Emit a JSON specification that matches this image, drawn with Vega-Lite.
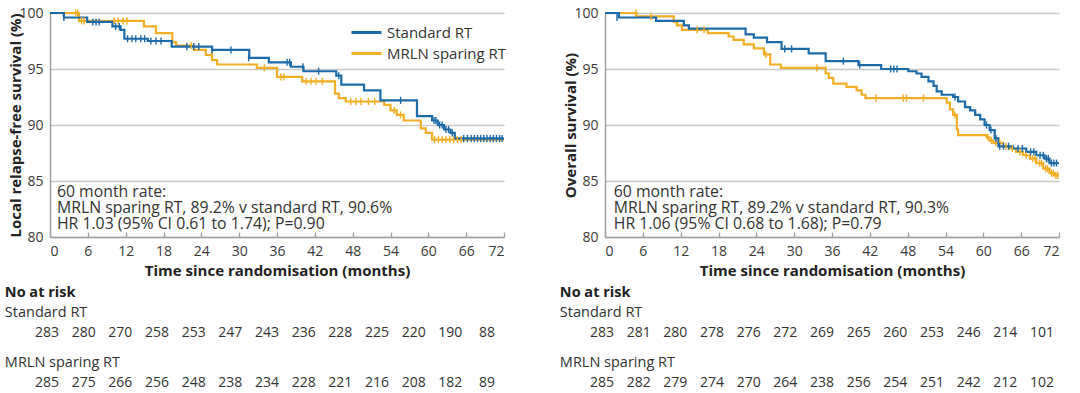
{
  "$schema": "https://vega.github.io/schema/vega-lite/v6.json",
  "padding": {"left": 4, "top": 6, "right": 0, "bottom": 0},
  "background": "white",
  "config": {
    "view": {"stroke": null},
    "font": "Open Sans",
    "text": {"font": "Open Sans", "color": "#333333", "fontSize": 14},
    "axis": {"labelFont": "Open Sans", "titleFont": "Open Sans", "labelFontSize": 14, "labelColor": "#3a3a3a", "titleFontSize": 15, "titleFontWeight": "bold", "titleColor": "#222222", "domainColor": "#a0a0a0", "domainWidth": 1.5, "labelOverlap": false}
  },
  "datasets": {
    "km": [
      {"panel": "L", "arm": "MRLN sparing RT", "t": 0, "s": 100}, {"panel": "L", "arm": "MRLN sparing RT", "t": 4.6, "s": 99.3}, {"panel": "L", "arm": "MRLN sparing RT", "t": 14.9, "s": 98.8}, {"panel": "L", "arm": "MRLN sparing RT", "t": 16.8, "s": 98.2}, {"panel": "L", "arm": "MRLN sparing RT", "t": 19.4, "s": 97.4}, {"panel": "L", "arm": "MRLN sparing RT", "t": 20, "s": 97.1}, {"panel": "L", "arm": "MRLN sparing RT", "t": 22.8, "s": 96.7}, {"panel": "L", "arm": "MRLN sparing RT", "t": 24.7, "s": 96.25}, {"panel": "L", "arm": "MRLN sparing RT", "t": 25.7, "s": 95.8}, {"panel": "L", "arm": "MRLN sparing RT", "t": 26.5, "s": 95.4}, {"panel": "L", "arm": "MRLN sparing RT", "t": 32.8, "s": 95.1}, {"panel": "L", "arm": "MRLN sparing RT", "t": 36, "s": 94.3}, {"panel": "L", "arm": "MRLN sparing RT", "t": 40, "s": 93.9}, {"panel": "L", "arm": "MRLN sparing RT", "t": 45.2, "s": 92.8}, {"panel": "L", "arm": "MRLN sparing RT", "t": 45.8, "s": 92.4}, {"panel": "L", "arm": "MRLN sparing RT", "t": 46.9, "s": 92.1}, {"panel": "L", "arm": "MRLN sparing RT", "t": 53, "s": 91.8}, {"panel": "L", "arm": "MRLN sparing RT", "t": 54, "s": 91.3}, {"panel": "L", "arm": "MRLN sparing RT", "t": 55, "s": 90.9}, {"panel": "L", "arm": "MRLN sparing RT", "t": 56.1, "s": 90.4}, {"panel": "L", "arm": "MRLN sparing RT", "t": 58.8, "s": 89.7}, {"panel": "L", "arm": "MRLN sparing RT", "t": 59.6, "s": 89.3}, {"panel": "L", "arm": "MRLN sparing RT", "t": 60.6, "s": 88.7}, {"panel": "L", "arm": "MRLN sparing RT", "t": 72, "s": 88.7},
      {"panel": "L", "arm": "Standard RT", "t": 0, "s": 100}, {"panel": "L", "arm": "Standard RT", "t": 2.2, "s": 99.6}, {"panel": "L", "arm": "Standard RT", "t": 5.9, "s": 99.2}, {"panel": "L", "arm": "Standard RT", "t": 9.9, "s": 98.8}, {"panel": "L", "arm": "Standard RT", "t": 11.2, "s": 98.5}, {"panel": "L", "arm": "Standard RT", "t": 11.8, "s": 97.7}, {"panel": "L", "arm": "Standard RT", "t": 15.5, "s": 97.5}, {"panel": "L", "arm": "Standard RT", "t": 19.3, "s": 97.0}, {"panel": "L", "arm": "Standard RT", "t": 25.7, "s": 96.7}, {"panel": "L", "arm": "Standard RT", "t": 31.6, "s": 96.0}, {"panel": "L", "arm": "Standard RT", "t": 34.7, "s": 95.6}, {"panel": "L", "arm": "Standard RT", "t": 38.2, "s": 95.2}, {"panel": "L", "arm": "Standard RT", "t": 40.2, "s": 94.8}, {"panel": "L", "arm": "Standard RT", "t": 45.4, "s": 94.4}, {"panel": "L", "arm": "Standard RT", "t": 46.2, "s": 93.6}, {"panel": "L", "arm": "Standard RT", "t": 49.8, "s": 93.1}, {"panel": "L", "arm": "Standard RT", "t": 52.4, "s": 92.2}, {"panel": "L", "arm": "Standard RT", "t": 58.2, "s": 90.8}, {"panel": "L", "arm": "Standard RT", "t": 60.6, "s": 90.4}, {"panel": "L", "arm": "Standard RT", "t": 61.5, "s": 90.0}, {"panel": "L", "arm": "Standard RT", "t": 62.5, "s": 89.6}, {"panel": "L", "arm": "Standard RT", "t": 63.5, "s": 89.3}, {"panel": "L", "arm": "Standard RT", "t": 64.2, "s": 88.8}, {"panel": "L", "arm": "Standard RT", "t": 72, "s": 88.8},
      {"panel": "R", "arm": "MRLN sparing RT", "t": 0, "s": 100}, {"panel": "R", "arm": "MRLN sparing RT", "t": 5.0, "s": 99.7}, {"panel": "R", "arm": "MRLN sparing RT", "t": 10.9, "s": 99.2}, {"panel": "R", "arm": "MRLN sparing RT", "t": 11.4, "s": 98.9}, {"panel": "R", "arm": "MRLN sparing RT", "t": 12.2, "s": 98.5}, {"panel": "R", "arm": "MRLN sparing RT", "t": 16.3, "s": 98.2}, {"panel": "R", "arm": "MRLN sparing RT", "t": 19.6, "s": 97.9}, {"panel": "R", "arm": "MRLN sparing RT", "t": 20.4, "s": 97.6}, {"panel": "R", "arm": "MRLN sparing RT", "t": 22, "s": 97.2}, {"panel": "R", "arm": "MRLN sparing RT", "t": 23.6, "s": 96.85}, {"panel": "R", "arm": "MRLN sparing RT", "t": 25.2, "s": 96.3}, {"panel": "R", "arm": "MRLN sparing RT", "t": 26.2, "s": 95.4}, {"panel": "R", "arm": "MRLN sparing RT", "t": 27.9, "s": 95.1}, {"panel": "R", "arm": "MRLN sparing RT", "t": 35, "s": 94.6}, {"panel": "R", "arm": "MRLN sparing RT", "t": 35.5, "s": 94.2}, {"panel": "R", "arm": "MRLN sparing RT", "t": 36.2, "s": 93.7}, {"panel": "R", "arm": "MRLN sparing RT", "t": 38.3, "s": 93.4}, {"panel": "R", "arm": "MRLN sparing RT", "t": 39.9, "s": 93.1}, {"panel": "R", "arm": "MRLN sparing RT", "t": 40.7, "s": 92.7}, {"panel": "R", "arm": "MRLN sparing RT", "t": 41.3, "s": 92.4}, {"panel": "R", "arm": "MRLN sparing RT", "t": 54.2, "s": 92.0}, {"panel": "R", "arm": "MRLN sparing RT", "t": 54.7, "s": 91.4}, {"panel": "R", "arm": "MRLN sparing RT", "t": 55.2, "s": 90.9}, {"panel": "R", "arm": "MRLN sparing RT", "t": 55.8, "s": 89.6}, {"panel": "R", "arm": "MRLN sparing RT", "t": 56.0, "s": 89.1}, {"panel": "R", "arm": "MRLN sparing RT", "t": 60.5, "s": 88.9}, {"panel": "R", "arm": "MRLN sparing RT", "t": 61.0, "s": 88.6}, {"panel": "R", "arm": "MRLN sparing RT", "t": 61.6, "s": 88.4}, {"panel": "R", "arm": "MRLN sparing RT", "t": 63.1, "s": 88.1}, {"panel": "R", "arm": "MRLN sparing RT", "t": 64.2, "s": 87.9}, {"panel": "R", "arm": "MRLN sparing RT", "t": 65.2, "s": 87.6}, {"panel": "R", "arm": "MRLN sparing RT", "t": 66.3, "s": 87.3}, {"panel": "R", "arm": "MRLN sparing RT", "t": 67.4, "s": 87.0}, {"panel": "R", "arm": "MRLN sparing RT", "t": 68.4, "s": 86.6}, {"panel": "R", "arm": "MRLN sparing RT", "t": 69.5, "s": 86.1}, {"panel": "R", "arm": "MRLN sparing RT", "t": 70.5, "s": 85.7}, {"panel": "R", "arm": "MRLN sparing RT", "t": 71.2, "s": 85.5}, {"panel": "R", "arm": "MRLN sparing RT", "t": 72, "s": 85.5},
      {"panel": "R", "arm": "Standard RT", "t": 0, "s": 100}, {"panel": "R", "arm": "Standard RT", "t": 2.2, "s": 99.6}, {"panel": "R", "arm": "Standard RT", "t": 8.1, "s": 99.3}, {"panel": "R", "arm": "Standard RT", "t": 12.5, "s": 98.9}, {"panel": "R", "arm": "Standard RT", "t": 13.3, "s": 98.6}, {"panel": "R", "arm": "Standard RT", "t": 22.3, "s": 98.1}, {"panel": "R", "arm": "Standard RT", "t": 23.6, "s": 97.8}, {"panel": "R", "arm": "Standard RT", "t": 25.7, "s": 97.4}, {"panel": "R", "arm": "Standard RT", "t": 28, "s": 96.8}, {"panel": "R", "arm": "Standard RT", "t": 32.3, "s": 96.4}, {"panel": "R", "arm": "Standard RT", "t": 35, "s": 95.7}, {"panel": "R", "arm": "Standard RT", "t": 40.2, "s": 95.35}, {"panel": "R", "arm": "Standard RT", "t": 43.8, "s": 95.0}, {"panel": "R", "arm": "Standard RT", "t": 48.1, "s": 94.8}, {"panel": "R", "arm": "Standard RT", "t": 49.4, "s": 94.6}, {"panel": "R", "arm": "Standard RT", "t": 50.2, "s": 94.3}, {"panel": "R", "arm": "Standard RT", "t": 51.3, "s": 93.9}, {"panel": "R", "arm": "Standard RT", "t": 52.1, "s": 93.5}, {"panel": "R", "arm": "Standard RT", "t": 52.6, "s": 93.0}, {"panel": "R", "arm": "Standard RT", "t": 53.4, "s": 92.7}, {"panel": "R", "arm": "Standard RT", "t": 55.2, "s": 92.5}, {"panel": "R", "arm": "Standard RT", "t": 56, "s": 92.1}, {"panel": "R", "arm": "Standard RT", "t": 57.1, "s": 91.6}, {"panel": "R", "arm": "Standard RT", "t": 57.9, "s": 91.3}, {"panel": "R", "arm": "Standard RT", "t": 58.7, "s": 90.9}, {"panel": "R", "arm": "Standard RT", "t": 59.5, "s": 90.5}, {"panel": "R", "arm": "Standard RT", "t": 60.2, "s": 90.0}, {"panel": "R", "arm": "Standard RT", "t": 61, "s": 89.55}, {"panel": "R", "arm": "Standard RT", "t": 61.8, "s": 88.8}, {"panel": "R", "arm": "Standard RT", "t": 62.4, "s": 88.1}, {"panel": "R", "arm": "Standard RT", "t": 64.7, "s": 87.9}, {"panel": "R", "arm": "Standard RT", "t": 66.8, "s": 87.6}, {"panel": "R", "arm": "Standard RT", "t": 68.4, "s": 87.3}, {"panel": "R", "arm": "Standard RT", "t": 69.7, "s": 87.0}, {"panel": "R", "arm": "Standard RT", "t": 70.5, "s": 86.6}, {"panel": "R", "arm": "Standard RT", "t": 72, "s": 86.6}
    ],
    "censor": [
      {"panel": "L", "arm": "MRLN sparing RT", "t": 4.1, "s": 100}, {"panel": "L", "arm": "MRLN sparing RT", "t": 4.4, "s": 100}, {"panel": "L", "arm": "MRLN sparing RT", "t": 5.0, "s": 99.3}, {"panel": "L", "arm": "MRLN sparing RT", "t": 5.4, "s": 99.3}, {"panel": "L", "arm": "MRLN sparing RT", "t": 10.2, "s": 99.3}, {"panel": "L", "arm": "MRLN sparing RT", "t": 10.8, "s": 99.3}, {"panel": "L", "arm": "MRLN sparing RT", "t": 11.6, "s": 99.3}, {"panel": "L", "arm": "MRLN sparing RT", "t": 12.2, "s": 99.3}, {"panel": "L", "arm": "MRLN sparing RT", "t": 22.4, "s": 97.1}, {"panel": "L", "arm": "MRLN sparing RT", "t": 25.6, "s": 96.25}, {"panel": "L", "arm": "MRLN sparing RT", "t": 34.0, "s": 95.1}, {"panel": "L", "arm": "MRLN sparing RT", "t": 36.6, "s": 94.3}, {"panel": "L", "arm": "MRLN sparing RT", "t": 37.1, "s": 94.3}, {"panel": "L", "arm": "MRLN sparing RT", "t": 40.6, "s": 93.9}, {"panel": "L", "arm": "MRLN sparing RT", "t": 41.4, "s": 93.9}, {"panel": "L", "arm": "MRLN sparing RT", "t": 42.2, "s": 93.9}, {"panel": "L", "arm": "MRLN sparing RT", "t": 43.2, "s": 93.9}, {"panel": "L", "arm": "MRLN sparing RT", "t": 47.7, "s": 92.1}, {"panel": "L", "arm": "MRLN sparing RT", "t": 48.5, "s": 92.1}, {"panel": "L", "arm": "MRLN sparing RT", "t": 49.3, "s": 92.1}, {"panel": "L", "arm": "MRLN sparing RT", "t": 50.5, "s": 92.1}, {"panel": "L", "arm": "MRLN sparing RT", "t": 51.5, "s": 92.1}, {"panel": "L", "arm": "MRLN sparing RT", "t": 54.6, "s": 91.3}, {"panel": "L", "arm": "MRLN sparing RT", "t": 55.6, "s": 90.9}, {"panel": "L", "arm": "MRLN sparing RT", "t": 61.0, "s": 88.7}, {"panel": "L", "arm": "MRLN sparing RT", "t": 61.6, "s": 88.7}, {"panel": "L", "arm": "MRLN sparing RT", "t": 62.2, "s": 88.7}, {"panel": "L", "arm": "MRLN sparing RT", "t": 62.8, "s": 88.7}, {"panel": "L", "arm": "MRLN sparing RT", "t": 63.4, "s": 88.7}, {"panel": "L", "arm": "MRLN sparing RT", "t": 64.0, "s": 88.7}, {"panel": "L", "arm": "MRLN sparing RT", "t": 64.6, "s": 88.7}, {"panel": "L", "arm": "MRLN sparing RT", "t": 65.2, "s": 88.7},
      {"panel": "L", "arm": "Standard RT", "t": 2.2, "s": 99.6}, {"panel": "L", "arm": "Standard RT", "t": 6.8, "s": 99.2}, {"panel": "L", "arm": "Standard RT", "t": 7.3, "s": 99.2}, {"panel": "L", "arm": "Standard RT", "t": 7.8, "s": 99.2}, {"panel": "L", "arm": "Standard RT", "t": 10.4, "s": 98.8}, {"panel": "L", "arm": "Standard RT", "t": 11.0, "s": 98.8}, {"panel": "L", "arm": "Standard RT", "t": 12.3, "s": 97.7}, {"panel": "L", "arm": "Standard RT", "t": 13.0, "s": 97.7}, {"panel": "L", "arm": "Standard RT", "t": 13.6, "s": 97.7}, {"panel": "L", "arm": "Standard RT", "t": 14.4, "s": 97.7}, {"panel": "L", "arm": "Standard RT", "t": 15.0, "s": 97.7}, {"panel": "L", "arm": "Standard RT", "t": 16.0, "s": 97.5}, {"panel": "L", "arm": "Standard RT", "t": 16.8, "s": 97.5}, {"panel": "L", "arm": "Standard RT", "t": 17.6, "s": 97.5}, {"panel": "L", "arm": "Standard RT", "t": 21.7, "s": 97.0}, {"panel": "L", "arm": "Standard RT", "t": 22.8, "s": 97.0}, {"panel": "L", "arm": "Standard RT", "t": 23.6, "s": 97.0}, {"panel": "L", "arm": "Standard RT", "t": 25.7, "s": 96.7}, {"panel": "L", "arm": "Standard RT", "t": 28.7, "s": 96.7}, {"panel": "L", "arm": "Standard RT", "t": 31.5, "s": 96.0}, {"panel": "L", "arm": "Standard RT", "t": 37.6, "s": 95.6}, {"panel": "L", "arm": "Standard RT", "t": 38.0, "s": 95.6}, {"panel": "L", "arm": "Standard RT", "t": 40.1, "s": 95.2}, {"panel": "L", "arm": "Standard RT", "t": 42.6, "s": 94.8}, {"panel": "L", "arm": "Standard RT", "t": 45.8, "s": 94.4}, {"panel": "L", "arm": "Standard RT", "t": 55.6, "s": 92.2}, {"panel": "L", "arm": "Standard RT", "t": 60.9, "s": 90.4}, {"panel": "L", "arm": "Standard RT", "t": 61.2, "s": 90.4}, {"panel": "L", "arm": "Standard RT", "t": 61.8, "s": 90.0}, {"panel": "L", "arm": "Standard RT", "t": 62.2, "s": 90.0}, {"panel": "L", "arm": "Standard RT", "t": 62.8, "s": 89.6}, {"panel": "L", "arm": "Standard RT", "t": 63.2, "s": 89.6}, {"panel": "L", "arm": "Standard RT", "t": 63.8, "s": 89.3}, {"panel": "L", "arm": "Standard RT", "t": 65.6, "s": 88.8}, {"panel": "L", "arm": "Standard RT", "t": 66.2, "s": 88.8}, {"panel": "L", "arm": "Standard RT", "t": 66.8, "s": 88.8}, {"panel": "L", "arm": "Standard RT", "t": 67.3, "s": 88.8}, {"panel": "L", "arm": "Standard RT", "t": 67.8, "s": 88.8}, {"panel": "L", "arm": "Standard RT", "t": 68.3, "s": 88.8}, {"panel": "L", "arm": "Standard RT", "t": 68.8, "s": 88.8}, {"panel": "L", "arm": "Standard RT", "t": 69.3, "s": 88.8}, {"panel": "L", "arm": "Standard RT", "t": 69.8, "s": 88.8}, {"panel": "L", "arm": "Standard RT", "t": 70.3, "s": 88.8}, {"panel": "L", "arm": "Standard RT", "t": 70.8, "s": 88.8}, {"panel": "L", "arm": "Standard RT", "t": 71.3, "s": 88.8}, {"panel": "L", "arm": "Standard RT", "t": 71.7, "s": 88.8},
      {"panel": "R", "arm": "MRLN sparing RT", "t": 4.9, "s": 100}, {"panel": "R", "arm": "MRLN sparing RT", "t": 7.3, "s": 99.7}, {"panel": "R", "arm": "MRLN sparing RT", "t": 14.6, "s": 98.5}, {"panel": "R", "arm": "MRLN sparing RT", "t": 15.7, "s": 98.5}, {"panel": "R", "arm": "MRLN sparing RT", "t": 25.5, "s": 96.3}, {"panel": "R", "arm": "MRLN sparing RT", "t": 33.6, "s": 95.1}, {"panel": "R", "arm": "MRLN sparing RT", "t": 43.0, "s": 92.4}, {"panel": "R", "arm": "MRLN sparing RT", "t": 47.3, "s": 92.4}, {"panel": "R", "arm": "MRLN sparing RT", "t": 47.8, "s": 92.4}, {"panel": "R", "arm": "MRLN sparing RT", "t": 50.5, "s": 92.4}, {"panel": "R", "arm": "MRLN sparing RT", "t": 55.5, "s": 90.9}, {"panel": "R", "arm": "MRLN sparing RT", "t": 60.7, "s": 88.9}, {"panel": "R", "arm": "MRLN sparing RT", "t": 61.3, "s": 88.6}, {"panel": "R", "arm": "MRLN sparing RT", "t": 62.0, "s": 88.4}, {"panel": "R", "arm": "MRLN sparing RT", "t": 62.6, "s": 88.4}, {"panel": "R", "arm": "MRLN sparing RT", "t": 63.6, "s": 88.1}, {"panel": "R", "arm": "MRLN sparing RT", "t": 64.6, "s": 87.9}, {"panel": "R", "arm": "MRLN sparing RT", "t": 65.8, "s": 87.6}, {"panel": "R", "arm": "MRLN sparing RT", "t": 66.8, "s": 87.3}, {"panel": "R", "arm": "MRLN sparing RT", "t": 67.8, "s": 87.0}, {"panel": "R", "arm": "MRLN sparing RT", "t": 68.2, "s": 87.0}, {"panel": "R", "arm": "MRLN sparing RT", "t": 68.9, "s": 86.6}, {"panel": "R", "arm": "MRLN sparing RT", "t": 69.2, "s": 86.6}, {"panel": "R", "arm": "MRLN sparing RT", "t": 69.9, "s": 86.1}, {"panel": "R", "arm": "MRLN sparing RT", "t": 70.2, "s": 86.1}, {"panel": "R", "arm": "MRLN sparing RT", "t": 70.8, "s": 85.7}, {"panel": "R", "arm": "MRLN sparing RT", "t": 71.1, "s": 85.7}, {"panel": "R", "arm": "MRLN sparing RT", "t": 71.5, "s": 85.5}, {"panel": "R", "arm": "MRLN sparing RT", "t": 71.8, "s": 85.5},
      {"panel": "R", "arm": "Standard RT", "t": 1.9, "s": 99.6}, {"panel": "R", "arm": "Standard RT", "t": 28.5, "s": 96.8}, {"panel": "R", "arm": "Standard RT", "t": 29.6, "s": 96.8}, {"panel": "R", "arm": "Standard RT", "t": 37.8, "s": 95.7}, {"panel": "R", "arm": "Standard RT", "t": 40.4, "s": 95.35}, {"panel": "R", "arm": "Standard RT", "t": 45.3, "s": 95.0}, {"panel": "R", "arm": "Standard RT", "t": 45.8, "s": 95.0}, {"panel": "R", "arm": "Standard RT", "t": 46.3, "s": 95.0}, {"panel": "R", "arm": "Standard RT", "t": 55.5, "s": 92.5}, {"panel": "R", "arm": "Standard RT", "t": 60.5, "s": 90.0}, {"panel": "R", "arm": "Standard RT", "t": 61.2, "s": 89.55}, {"panel": "R", "arm": "Standard RT", "t": 62.0, "s": 88.8}, {"panel": "R", "arm": "Standard RT", "t": 62.6, "s": 88.1}, {"panel": "R", "arm": "Standard RT", "t": 63.2, "s": 88.1}, {"panel": "R", "arm": "Standard RT", "t": 64.0, "s": 88.1}, {"panel": "R", "arm": "Standard RT", "t": 65.5, "s": 87.9}, {"panel": "R", "arm": "Standard RT", "t": 66.2, "s": 87.9}, {"panel": "R", "arm": "Standard RT", "t": 67.5, "s": 87.6}, {"panel": "R", "arm": "Standard RT", "t": 68.0, "s": 87.6}, {"panel": "R", "arm": "Standard RT", "t": 69.0, "s": 87.3}, {"panel": "R", "arm": "Standard RT", "t": 69.5, "s": 87.3}, {"panel": "R", "arm": "Standard RT", "t": 70.0, "s": 87.0}, {"panel": "R", "arm": "Standard RT", "t": 70.3, "s": 87.0}, {"panel": "R", "arm": "Standard RT", "t": 70.8, "s": 86.6}, {"panel": "R", "arm": "Standard RT", "t": 71.2, "s": 86.6}, {"panel": "R", "arm": "Standard RT", "t": 71.6, "s": 86.6}
    ],
    "risk": [
      {"panel": "L", "arm": "Standard RT", "t": 0, "n": 283}, {"panel": "L", "arm": "Standard RT", "t": 6, "n": 280}, {"panel": "L", "arm": "Standard RT", "t": 12, "n": 270}, {"panel": "L", "arm": "Standard RT", "t": 18, "n": 258}, {"panel": "L", "arm": "Standard RT", "t": 24, "n": 253}, {"panel": "L", "arm": "Standard RT", "t": 30, "n": 247}, {"panel": "L", "arm": "Standard RT", "t": 36, "n": 243}, {"panel": "L", "arm": "Standard RT", "t": 42, "n": 236}, {"panel": "L", "arm": "Standard RT", "t": 48, "n": 228}, {"panel": "L", "arm": "Standard RT", "t": 54, "n": 225}, {"panel": "L", "arm": "Standard RT", "t": 60, "n": 220}, {"panel": "L", "arm": "Standard RT", "t": 66, "n": 190}, {"panel": "L", "arm": "Standard RT", "t": 72, "n": 88},
      {"panel": "L", "arm": "MRLN sparing RT", "t": 0, "n": 285}, {"panel": "L", "arm": "MRLN sparing RT", "t": 6, "n": 275}, {"panel": "L", "arm": "MRLN sparing RT", "t": 12, "n": 266}, {"panel": "L", "arm": "MRLN sparing RT", "t": 18, "n": 256}, {"panel": "L", "arm": "MRLN sparing RT", "t": 24, "n": 248}, {"panel": "L", "arm": "MRLN sparing RT", "t": 30, "n": 238}, {"panel": "L", "arm": "MRLN sparing RT", "t": 36, "n": 234}, {"panel": "L", "arm": "MRLN sparing RT", "t": 42, "n": 228}, {"panel": "L", "arm": "MRLN sparing RT", "t": 48, "n": 221}, {"panel": "L", "arm": "MRLN sparing RT", "t": 54, "n": 216}, {"panel": "L", "arm": "MRLN sparing RT", "t": 60, "n": 208}, {"panel": "L", "arm": "MRLN sparing RT", "t": 66, "n": 182}, {"panel": "L", "arm": "MRLN sparing RT", "t": 72, "n": 89},
      {"panel": "R", "arm": "Standard RT", "t": 0, "n": 283}, {"panel": "R", "arm": "Standard RT", "t": 6, "n": 281}, {"panel": "R", "arm": "Standard RT", "t": 12, "n": 280}, {"panel": "R", "arm": "Standard RT", "t": 18, "n": 278}, {"panel": "R", "arm": "Standard RT", "t": 24, "n": 276}, {"panel": "R", "arm": "Standard RT", "t": 30, "n": 272}, {"panel": "R", "arm": "Standard RT", "t": 36, "n": 269}, {"panel": "R", "arm": "Standard RT", "t": 42, "n": 265}, {"panel": "R", "arm": "Standard RT", "t": 48, "n": 260}, {"panel": "R", "arm": "Standard RT", "t": 54, "n": 253}, {"panel": "R", "arm": "Standard RT", "t": 60, "n": 246}, {"panel": "R", "arm": "Standard RT", "t": 66, "n": 214}, {"panel": "R", "arm": "Standard RT", "t": 72, "n": 101},
      {"panel": "R", "arm": "MRLN sparing RT", "t": 0, "n": 285}, {"panel": "R", "arm": "MRLN sparing RT", "t": 6, "n": 282}, {"panel": "R", "arm": "MRLN sparing RT", "t": 12, "n": 279}, {"panel": "R", "arm": "MRLN sparing RT", "t": 18, "n": 274}, {"panel": "R", "arm": "MRLN sparing RT", "t": 24, "n": 270}, {"panel": "R", "arm": "MRLN sparing RT", "t": 30, "n": 264}, {"panel": "R", "arm": "MRLN sparing RT", "t": 36, "n": 238}, {"panel": "R", "arm": "MRLN sparing RT", "t": 42, "n": 256}, {"panel": "R", "arm": "MRLN sparing RT", "t": 48, "n": 254}, {"panel": "R", "arm": "MRLN sparing RT", "t": 54, "n": 251}, {"panel": "R", "arm": "MRLN sparing RT", "t": 60, "n": 242}, {"panel": "R", "arm": "MRLN sparing RT", "t": 66, "n": 212}, {"panel": "R", "arm": "MRLN sparing RT", "t": 72, "n": 102}
    ]
  },
  "columns": 2,
  "bounds": "flush",
  "spacing": {"column": 101, "row": 96},
  "resolve": {"scale": {"color": "independent", "x": "independent", "y": "independent"}, "legend": {"color": "independent"}},
  "concat": [
    {
      "width": 454, "height": 224,
      "resolve": {"legend": {"color": "independent"}},
      "layer": [
        {
          "data": {"name": "km"},
          "transform": [{"filter": "datum.panel === 'L'"}],
          "mark": {"type": "line", "interpolate": "step-after", "strokeWidth": 2.2},
          "encoding": {
            "x": {"field": "t", "type": "quantitative", "scale": {"domain": [0, 72], "nice": false, "zero": false},
                  "axis": {"title": "Time since randomisation (months)", "values": [0, 6, 12, 18, 24, 30, 36, 42, 48, 54, 60, 66, 72], "tickCount": 30, "labelOverlap": false, "labelBound": false, "grid": false, "tickSize": -5, "tickColor": "#a0a0a0", "tickWidth": 1.3, "labelPadding": 12, "titlePadding": 5}},
            "y": {"field": "s", "type": "quantitative", "scale": {"domain": [80, 100], "nice": false, "zero": false},
                  "axis": {"title": "Local relapse-free survival (%)", "values": [80, 85, 90, 95, 100], "tickCount": 10, "grid": true, "gridColor": "#c8c8c8", "gridWidth": 1.5, "ticks": false, "labelPadding": 7, "titlePadding": -5}},
            "color": {"field": "arm", "type": "nominal",
                      "scale": {"domain": ["Standard RT", "MRLN sparing RT"], "range": ["#1d6aa8", "#f2ae24"]},
                      "legend": {"title": null, "orient": "none", "legendX": 309, "legendY": 12, "symbolType": "M-3,0H3", "symbolSize": 100, "symbolStrokeWidth": 3, "labelFontSize": 15, "labelFont": "Open Sans", "labelColor": "#333333", "labelOffset": 13, "rowPadding": 5, "padding": 0}}
          }
        },
        {
          "data": {"name": "censor"},
          "transform": [{"filter": "datum.panel === 'L'"}],
          "mark": {"type": "point", "shape": "M0,-1L0,1", "size": 50, "strokeWidth": 1.4, "filled": false, "opacity": 1},
          "encoding": {
            "x": {"field": "t", "type": "quantitative", "scale": {"domain": [0, 72], "nice": false, "zero": false}},
            "y": {"field": "s", "type": "quantitative", "scale": {"domain": [80, 100], "nice": false, "zero": false}},
            "color": {"field": "arm", "type": "nominal", "legend": null}
          }
        },
        {
          "data": {"values": [{}]},
          "mark": {"type": "text", "align": "left", "baseline": "top", "fontSize": 15.8, "lineHeight": 16, "color": "#333333",
                   "text": ["60 month rate:", "MRLN sparing RT, 89.2% v standard RT, 90.6%", "HR 1.03 (95% CI 0.61 to 1.74); P=0.90"]},
          "encoding": {"x": {"datum": 1.1, "scale": {"domain": [0, 72], "nice": false, "zero": false}}, "y": {"datum": 84.62, "scale": {"domain": [80, 100], "nice": false, "zero": false}}}
        }
      ]
    },
    {
      "width": 454, "height": 224,
      "layer": [
        {
          "data": {"name": "km"},
          "transform": [{"filter": "datum.panel === 'R'"}],
          "mark": {"type": "line", "interpolate": "step-after", "strokeWidth": 2.2},
          "encoding": {
            "x": {"field": "t", "type": "quantitative", "scale": {"domain": [0, 72], "nice": false, "zero": false},
                  "axis": {"title": "Time since randomisation (months)", "values": [0, 6, 12, 18, 24, 30, 36, 42, 48, 54, 60, 66, 72], "tickCount": 30, "labelOverlap": false, "labelBound": false, "grid": false, "tickSize": -5, "tickColor": "#a0a0a0", "tickWidth": 1.3, "labelPadding": 12, "titlePadding": 5}},
            "y": {"field": "s", "type": "quantitative", "scale": {"domain": [80, 100], "nice": false, "zero": false},
                  "axis": {"title": "Overall survival (%)", "values": [80, 85, 90, 95, 100], "tickCount": 10, "grid": true, "gridColor": "#c8c8c8", "gridWidth": 1.5, "ticks": false, "labelPadding": 7, "titlePadding": -5}},
            "color": {"field": "arm", "type": "nominal",
                      "scale": {"domain": ["Standard RT", "MRLN sparing RT"], "range": ["#1d6aa8", "#f2ae24"]},
                      "legend": null}
          }
        },
        {
          "data": {"name": "censor"},
          "transform": [{"filter": "datum.panel === 'R'"}],
          "mark": {"type": "point", "shape": "M0,-1L0,1", "size": 50, "strokeWidth": 1.4, "filled": false, "opacity": 1},
          "encoding": {
            "x": {"field": "t", "type": "quantitative", "scale": {"domain": [0, 72], "nice": false, "zero": false}},
            "y": {"field": "s", "type": "quantitative", "scale": {"domain": [80, 100], "nice": false, "zero": false}},
            "color": {"field": "arm", "type": "nominal", "legend": null}
          }
        },
        {
          "data": {"values": [{}]},
          "mark": {"type": "text", "align": "left", "baseline": "top", "fontSize": 15.8, "lineHeight": 16, "color": "#333333",
                   "text": ["60 month rate:", "MRLN sparing RT, 89.2% v standard RT, 90.3%", "HR 1.06 (95% CI 0.68 to 1.68); P=0.79"]},
          "encoding": {"x": {"datum": 1.4, "scale": {"domain": [0, 72], "nice": false, "zero": false}}, "y": {"datum": 84.62, "scale": {"domain": [80, 100], "nice": false, "zero": false}}}
        }
      ]
    },
    {
      "width": 454, "height": 50,
      "data": {"name": "risk"},
      "transform": [{"filter": "datum.panel === 'L'"}],
      "layer": [
        {
          "mark": {"type": "text", "fontSize": 14, "color": "#333333"},
          "encoding": {
            "x": {"field": "t", "type": "quantitative", "scale": {"domain": [0.49, 74.78], "nice": false, "zero": false}, "axis": null},
            "y": {"field": "arm", "type": "nominal", "scale": {"type": "point", "domain": ["Standard RT", "MRLN sparing RT"], "padding": 0}, "axis": null},
            "text": {"field": "n", "type": "quantitative"}
          }
        },
        {
          "transform": [{"aggregate": [{"op": "count", "as": "c"}], "groupby": ["arm"]}],
          "mark": {"type": "text", "fontSize": 14.5, "color": "#333333", "align": "left", "dy": -20},
          "encoding": {
            "x": {"datum": -6.9, "scale": {"domain": [0.49, 74.78], "nice": false, "zero": false}},
            "y": {"field": "arm", "type": "nominal"},
            "text": {"field": "arm", "type": "nominal"}
          }
        },
        {
          "data": {"values": [{}]},
          "mark": {"type": "text", "text": "No at risk", "fontSize": 14.5, "fontWeight": "bold", "color": "#222222", "align": "left", "dy": -40},
          "encoding": {"x": {"datum": -6.9, "scale": {"domain": [0.49, 74.78], "nice": false, "zero": false}}, "y": {"datum": "Standard RT"}}
        }
      ]
    },
    {
      "width": 454, "height": 50,
      "data": {"name": "risk"},
      "transform": [{"filter": "datum.panel === 'R'"}],
      "layer": [
        {
          "mark": {"type": "text", "fontSize": 14, "color": "#333333"},
          "encoding": {
            "x": {"field": "t", "type": "quantitative", "scale": {"domain": [0.49, 74.78], "nice": false, "zero": false}, "axis": null},
            "y": {"field": "arm", "type": "nominal", "scale": {"type": "point", "domain": ["Standard RT", "MRLN sparing RT"], "padding": 0}, "axis": null},
            "text": {"field": "n", "type": "quantitative"}
          }
        },
        {
          "transform": [{"aggregate": [{"op": "count", "as": "c"}], "groupby": ["arm"]}],
          "mark": {"type": "text", "fontSize": 14.5, "color": "#333333", "align": "left", "dy": -20},
          "encoding": {
            "x": {"datum": -6.9, "scale": {"domain": [0.49, 74.78], "nice": false, "zero": false}},
            "y": {"field": "arm", "type": "nominal"},
            "text": {"field": "arm", "type": "nominal"}
          }
        },
        {
          "data": {"values": [{}]},
          "mark": {"type": "text", "text": "No at risk", "fontSize": 14.5, "fontWeight": "bold", "color": "#222222", "align": "left", "dy": -40},
          "encoding": {"x": {"datum": -6.9, "scale": {"domain": [0.49, 74.78], "nice": false, "zero": false}}, "y": {"datum": "Standard RT"}}
        }
      ]
    }
  ]
}
